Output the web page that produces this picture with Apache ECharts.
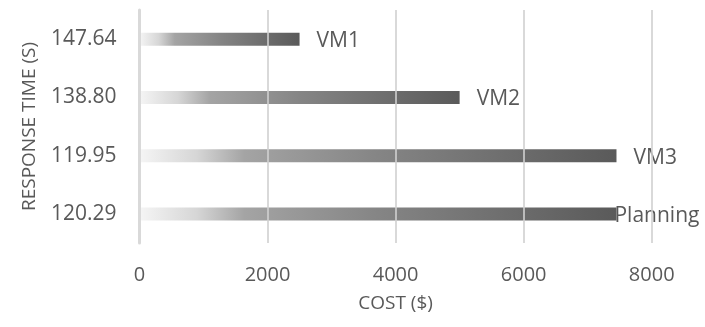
<!DOCTYPE html>
<html>
<head>
<meta charset="utf-8">
<script src="https://cdn.jsdelivr.net/npm/echarts@6/dist/echarts.min.js"></script>
<style>
  html, body { margin: 0; padding: 0; background: #fff; }
  #chart { width: 705px; height: 327px; }
</style>
</head>
<body>
<div id="chart"></div>
<script>
// Response time of each configuration (y categories, top to bottom)
const responseTimes = ['147.64', '138.80', '119.95', '120.29'];
// Configuration names shown at the bar ends
const configNames = ['VM1', 'VM2', 'VM3', 'Planning'];
// Cost of each configuration in dollars
const costs = [2500, 5000, 7450, 7450];
// Cost axis tick values
const costTicks = [0, 2000, 4000, 6000, 8000];

const FONT = '"Open Sans", sans-serif';
const TEXT = '#595959';

const barFill = {
  type: 'linear', x: 0, y: 0, x2: 1, y2: 0,
  colorStops: [
    { offset: 0, color: '#f5f5f5' },
    { offset: 0.12, color: '#d6d6d6' },
    { offset: 0.22, color: '#a4a4a4' },
    { offset: 0.5, color: '#858585' },
    { offset: 1, color: '#5a5a5a' }
  ]
};

const barData = costs.map((v, i) => {
  const item = { value: v, name: configNames[i] };
  if (configNames[i] === 'Planning') {
    item.label = { distance: -2 };
  }
  return item;
});

const chart = echarts.init(document.getElementById('chart'), null, { renderer: 'canvas' });
chart.setOption({
  animation: false,
  backgroundColor: '#ffffff',
  grid: { left: 139.5, right: 53.3, top: 10, bottom: 84, containLabel: false },
  xAxis: {
    type: 'value',
    min: costTicks[0],
    max: costTicks[costTicks.length - 1],
    interval: costTicks[1] - costTicks[0],
    z: 3,
    name: 'COST ($)',
    nameLocation: 'middle',
    nameGap: 51,
    nameTextStyle: { color: TEXT, fontFamily: FONT, fontSize: 19 },
    axisLine: { show: false },
    axisTick: { show: false },
    axisLabel: {
      color: TEXT, fontFamily: FONT, fontSize: 20, margin: 22,
      formatter: v => String(v)
    },
    splitLine: { show: true, lineStyle: { color: 'rgba(208,208,208,0.8)', width: 2 } }
  },
  yAxis: {
    type: 'category',
    data: responseTimes,
    inverse: true,
    z: 3,
    name: 'RESPONSE TIME (S)',
    nameLocation: 'middle',
    nameGap: 100,
    nameRotate: 90,
    nameTextStyle: { color: TEXT, fontFamily: FONT, fontSize: 19 },
    axisLine: { show: true, lineStyle: { color: '#d9d9d9', width: 3 } },
    axisTick: { show: false },
    axisLabel: { color: TEXT, fontFamily: FONT, fontSize: 21, margin: 23 }
  },
  series: [{
    type: 'bar',
    data: barData,
    barWidth: 13,
    itemStyle: { color: barFill },
    label: {
      show: true,
      position: 'right',
      distance: 17,
      formatter: p => p.name,
      color: TEXT,
      fontFamily: FONT,
      fontSize: 21,
      offset: [0, 2]
    }
  }]
});
</script>
</body>
</html>
